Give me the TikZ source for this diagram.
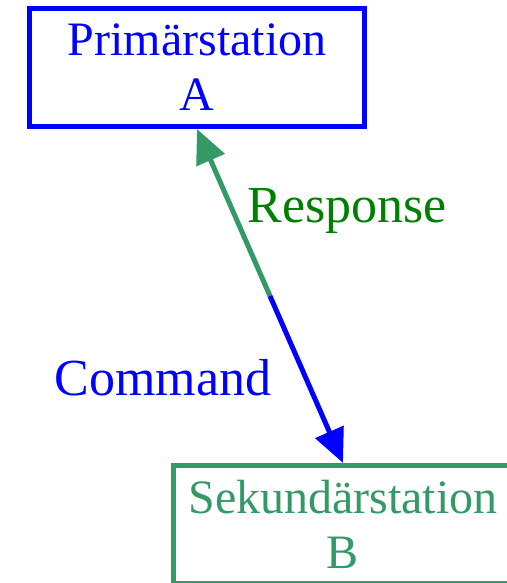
\documentclass[tikz,border=0pt]{standalone}
\usepackage{fontspec}
\setmainfont{Liberation Serif}
\usepackage{tikz}
\usetikzlibrary{arrows.meta, calc}
\definecolor{stationBlue}{HTML}{0000FF}
\definecolor{stationGreen}{HTML}{339966}
\definecolor{labelGreen}{HTML}{008000}

\begin{document}
\begin{tikzpicture} [
    x=1pt, y=-1pt,
    station/.style={rectangle, draw, fill=white, line width=5pt, minimum width=335pt, minimum height=118pt, align=center, inner sep=0pt, font=\fontsize{48}{55}\selectfont},
    msg/.style={font=\fontsize{52}{60}\selectfont, inner sep=0pt},
    arrow/.style={line width=5pt, -{Triangle[length=34pt, width=30pt]}}
]
    \useasboundingbox (0,0) rectangle (506,583);
    % stations
    \node[station, draw=stationBlue, text=stationBlue] (A) at (197, 67.5) {Primärstation\\A};
    \node[station, draw=stationGreen, text=stationGreen, minimum width=340pt] (B) at (343, 524.5) {Sekundärstation\\B};
    \coordinate (mid) at ($(A.south)!0.5!(B.north)$);

    \draw [arrow, stationGreen] (mid) -- (A.south);
    \draw [arrow, stationBlue] (mid) -- (B.north);

    % labels
    \node[msg, text=labelGreen] (resp) at (347, 211) {Response};
    \node[msg, text=stationBlue] (cmd) at (163, 378) {Command};
\end{tikzpicture}
\end{document}
